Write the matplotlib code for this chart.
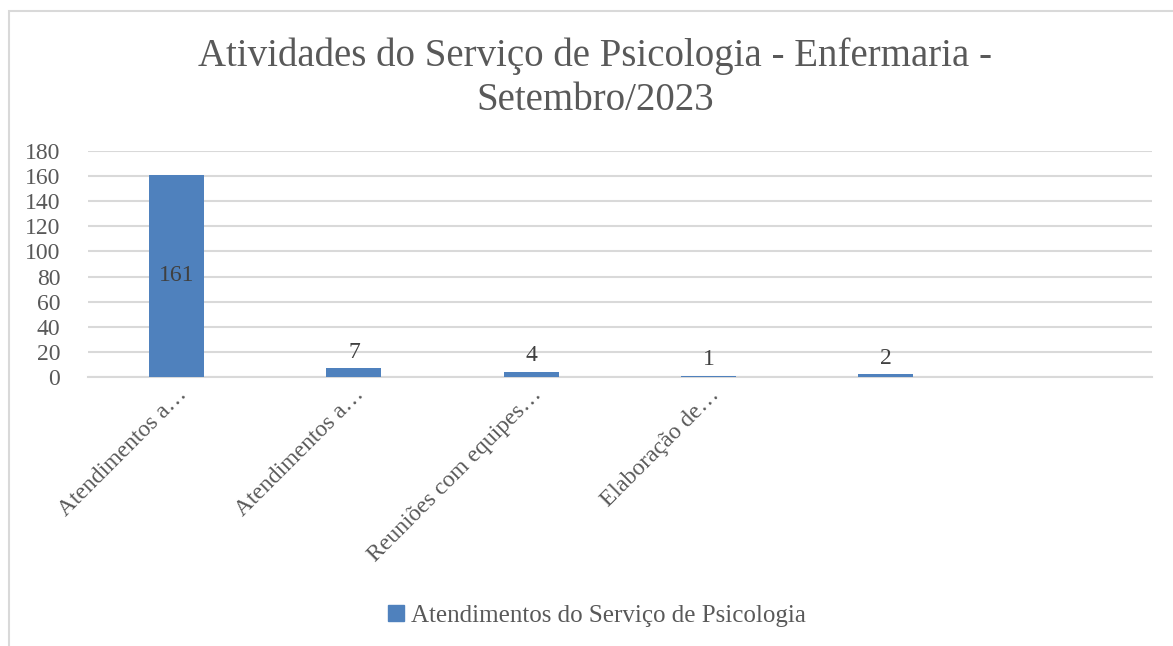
import matplotlib.pyplot as plt
from matplotlib.patches import Rectangle
from matplotlib.lines import Line2D

# Data
categories = ["Atendimentos a…", "Atendimentos a…", "Reuniões com equipes…",
              "Elaboração de…", "", ""]
values = [161, 7, 4, 1, 2, None]
series_name = "Atendimentos do Serviço de Psicologia"
title = "Atividades do Serviço de Psicologia - Enfermaria -\nSetembro/2023"
y_ticks = [0, 20, 40, 60, 80, 100, 120, 140, 160, 180]

plt.rcParams['font.family'] = ['Liberation Serif', 'DejaVu Serif']
bar_color = '#4f81bd'
text_gray = '#595959'
grid_gray = '#d9d9d9'

fig = plt.figure(figsize=(11.73, 6.46), dpi=100)
ax = fig.add_axes([0.075, 0.4164, 0.907, 0.350])

x = list(range(len(categories)))
for i, v in zip(x, values):
    if v is None:
        continue
    ax.bar(i, v, width=0.31, color=bar_color, zorder=3)
    if v > 50:
        # big bar: label sits inside, centred
        ax.text(i, v / 2, str(v), ha='center', va='center', fontsize=17, color='#404040', zorder=4)
    else:
        ax.annotate(str(v), (i, v), xytext=(0, 4), textcoords='offset points',
                    ha='center', va='bottom', fontsize=17, color='#404040', zorder=4)

ax.set_xlim(-0.5, len(categories) - 0.5)
ax.set_ylim(0, 180)
ax.set_yticks(y_ticks)
ax.yaxis.grid(True, color=grid_gray, linewidth=1.5, zorder=0)
ax.set_axisbelow(True)
for s in ['top', 'right', 'left']:
    ax.spines[s].set_visible(False)
ax.spines['bottom'].set_color(grid_gray)
ax.spines['bottom'].set_linewidth(1.5)
ax.tick_params(axis='both', length=0, labelsize=17, labelcolor=text_gray)
ax.tick_params(axis='y', pad=20)
ax.set_xticks(x)
ax.set_xticklabels(categories, rotation=45, ha='right', rotation_mode='anchor')
ax.tick_params(axis='x', pad=5)

fig.text(0.507, 0.879, title, ha='center', va='center', fontsize=28,
         color=text_gray, linespacing=1.22)

handle = Line2D([], [], marker='s', linestyle='none', markersize=11,
                markerfacecolor=bar_color, markeredgecolor=bar_color)
fig.legend([handle], [series_name], loc='center', bbox_to_anchor=(0.507, 0.047),
           frameon=False, fontsize=18, labelcolor=text_gray,
           handletextpad=0.1, handlelength=1.0)

# chart outline (only left and top edges visible in the crop)
fig.patches.append(Rectangle((9 / 1173, -0.1), 1.2, 1 - 11 / 646 + 0.1,
                             transform=fig.transFigure, fill=False,
                             edgecolor=grid_gray, linewidth=1.5))

fig.savefig('out.png', dpi=100)
